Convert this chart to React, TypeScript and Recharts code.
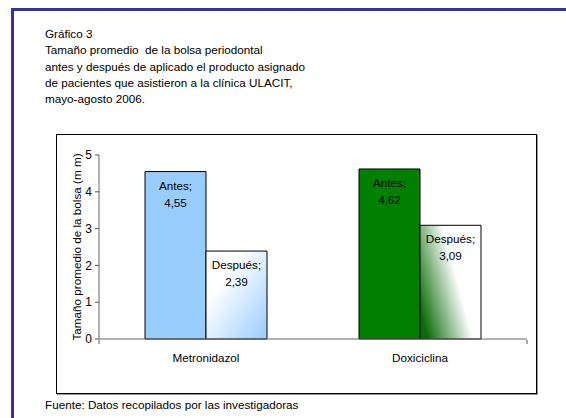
import React from "react";
import { BarChart, Bar, XAxis, YAxis, Cell, LabelList } from "recharts";

const FONT = "'Liberation Sans', Arial, sans-serif";
const FS = 11.7;

const categories = ["Metronidazol", "Doxiciclina"];
const antes = [4.55, 4.62];
const despues = [2.39, 3.09];
const yTicks = [0, 1, 2, 3, 4, 5];

const titleLines = [
  "Gráfico 3",
  "Tamaño promedio  de la bolsa periodontal",
  "antes y después de aplicado el producto asignado",
  "de pacientes que asistieron a la clínica ULACIT,",
  "mayo-agosto 2006.",
];

const data = categories.map((name, i) => ({ name, antes: antes[i], despues: despues[i] }));

const antesFills = ["#99CCFF", "#008000"];
const despuesFills = ["url(#gradBlue)", "url(#gradGreen)"];

const fmt = (v: number) => v.toFixed(2).replace(".", ",");

// two-line "Serie; valor" label inside the top of each bar
const barLabel = (series: string) => (props: any) => {
  const { x, y, width, value } = props;
  const cx = x + width / 2;
  return (
    <g fontFamily={FONT} fontSize={FS} fill="#000" textAnchor="middle">
      <text x={cx} y={y + 18}>{series + ";"}</text>
      <text x={cx} y={y + 35}>{fmt(value)}</text>
    </g>
  );
};

export default function App() {
  return (
    <div style={{ position: "absolute", left: 0, top: 0, width: 566, height: 418, background: "#fff", fontFamily: FONT }}>
      {/* frame */}
      <div style={{ position: "absolute", left: 11, top: 8, right: 0, height: 3, background: "#333399" }} />
      <div style={{ position: "absolute", left: 11, top: 8, width: 3, bottom: 0, background: "#333399" }} />

      <div style={{ position: "absolute", left: 45, top: 26, fontSize: FS, lineHeight: "16.3px", color: "#000" }}>
        {titleLines.map((t) => (
          <div key={t} style={{ whiteSpace: "pre" }}>{t}</div>
        ))}
      </div>

      <div
        style={{
          position: "absolute",
          left: 56,
          top: 134,
          width: 479,
          height: 258,
          border: "1px solid #000",
          boxShadow: "1px 1px 0 #999",
        }}
      >
        <BarChart
          width={479}
          height={258}
          data={data}
          margin={{ top: 20, right: 9, left: 0, bottom: 52 }}
          barGap={0}
          barCategoryGap="21.5%"
        >
          <defs>
            <linearGradient id="gradBlue" x1="0" y1="0" x2="1" y2="1">
              <stop offset="0.3" stopColor="#ffffff" />
              <stop offset="1" stopColor="#99CCFF" />
            </linearGradient>
            <linearGradient id="gradGreen" x1="0" y1="0.75" x2="0.6" y2="0.45">
              <stop offset="0" stopColor="#0a6b0a" />
              <stop offset="1" stopColor="#ffffff" />
            </linearGradient>
          </defs>
          {/* both bottom axes are kept 1px tall so they sit on the plot edge */}
          <XAxis
            xAxisId="cat"
            dataKey="name"
            axisLine={{ stroke: "#666" }}
            tickLine={false}
            tickMargin={9}
            tick={{ fontSize: FS, fill: "#000", fontFamily: FONT }}
            height={1}
          />
          {/* tick marks between categories */}
          <XAxis
            xAxisId="edges"
            type="number"
            domain={[0, categories.length]}
            ticks={categories.map((_, i) => i).concat(categories.length)}
            allowDataOverflow
            axisLine={false}
            tickFormatter={() => ""}
            tickSize={4}
            tickLine={{ stroke: "#555" }}
            height={1}
          />
          <YAxis
            domain={[0, 5]}
            ticks={yTicks}
            width={42}
            axisLine={{ stroke: "#666" }}
            tickLine={{ stroke: "#555" }}
            tickSize={4}
            tickMargin={3}
            tick={{ fontSize: 12, fill: "#000", fontFamily: FONT }}
            label={{
              value: "Tamaño promedio de la bolsa (m m)",
              angle: -90,
              position: "insideLeft",
              offset: 20,
              style: { textAnchor: "middle", fontSize: FS, fill: "#000", fontFamily: FONT },
            }}
          />
          <Bar dataKey="antes" xAxisId="cat" stroke="#000" strokeWidth={1} isAnimationActive={false}>
            {data.map((d, i) => (
              <Cell key={d.name} fill={antesFills[i]} />
            ))}
            <LabelList dataKey="antes" content={barLabel("Antes")} />
          </Bar>
          <Bar dataKey="despues" xAxisId="cat" stroke="#000" strokeWidth={1} isAnimationActive={false}>
            {data.map((d, i) => (
              <Cell key={d.name} fill={despuesFills[i]} />
            ))}
            <LabelList dataKey="despues" content={barLabel("Después")} />
          </Bar>
        </BarChart>
      </div>

      <div style={{ position: "absolute", left: 45, top: 398, fontSize: FS, lineHeight: "14px", color: "#000" }}>
        Fuente: Datos recopilados por las investigadoras
      </div>
    </div>
  );
}
